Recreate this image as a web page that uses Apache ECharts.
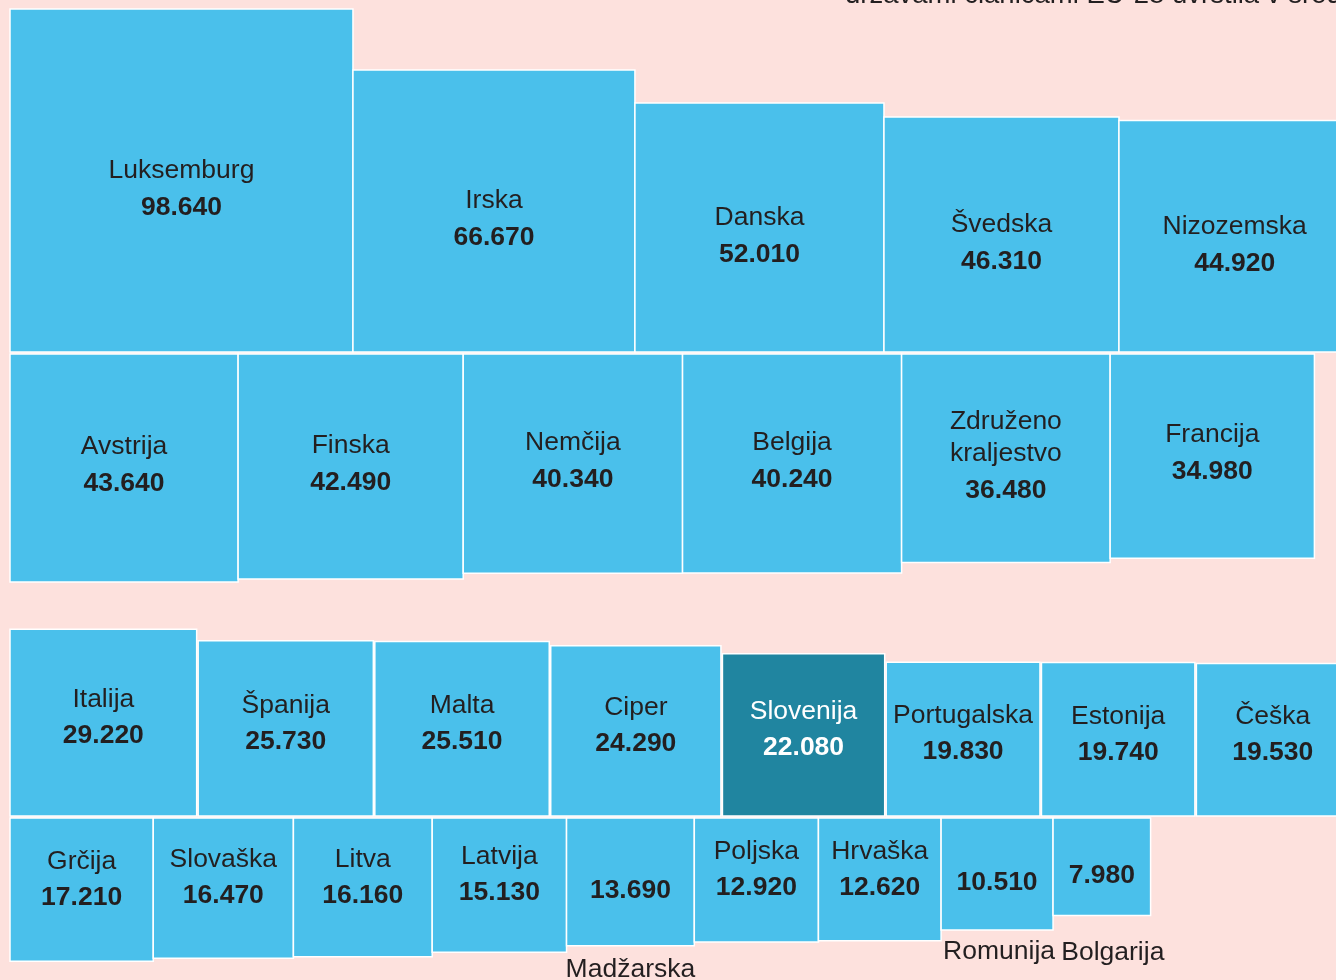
<!DOCTYPE html>
<html>
<head>
<meta charset="utf-8">
<title>BDP na prebivalca, EU-28</title>
<script src="https://cdn.jsdelivr.net/npm/echarts@6/dist/echarts.min.js"></script>
<style>
  html, body { margin: 0; padding: 0; background: #fde1dd; }
  #chart { width: 1336px; height: 980px; }
</style>
</head>
<body>
<div id="chart"></div>
<script>
// values per country, grouped in the four rows of the picture
const row1Countries = ['Luksemburg', 'Irska', 'Danska', 'Švedska', 'Nizozemska']
const row1Values = [98640, 66670, 52010, 46310, 44920]

const row2Countries = ['Avstrija', 'Finska', 'Nemčija', 'Belgija', 'Združeno\nkraljestvo', 'Francija']
const row2Values = [43640, 42490, 40340, 40240, 36480, 34980]

const row3Countries = ['Italija', 'Španija', 'Malta', 'Ciper', 'Slovenija', 'Portugalska', 'Estonija', 'Češka']
const row3Values = [29220, 25730, 25510, 24290, 22080, 19830, 19740, 19530]

const row4Countries = ['Grčija', 'Slovaška', 'Litva', 'Latvija', 'Madžarska', 'Poljska', 'Hrvaška', 'Romunija', 'Bolgarija']
const row4Values = [17210, 16470, 16160, 15130, 13690, 12920, 12620, 10510, 7980]

const highlighted = 'Slovenija'
const titleText = 'državami članicami EU-28 uvrstila v sredino'

// layout / style
const SCALE = 1.092 // side of a square per sqrt(value)
const BLUE = '#4ac0eb'
const DARK = '#2085a0'
const INK = '#231f20'
const FONT = '"Liberation Sans", Arial, Helvetica, sans-serif'
const FS = 26.5

const rows = [
  { names: row1Countries, values: row1Values, x0: 10, y: 352, anchor: 'bottom', gap: 0, nameDy: -10, valueDy: 27 },
  { names: row2Countries, values: row2Values, x0: 10, y: 354, anchor: 'top', gap: 0, nameDy: -21, valueDy: 16 },
  { names: row3Countries, values: row3Values, x0: 10, y: 816, anchor: 'bottom', gap: 1.5, nameDy: -23, valueDy: 13 },
  { names: row4Countries, values: row4Values, x0: 10, y: 818, anchor: 'top', gap: 0, nameDy: -28, valueDy: 8 }
]

// countries whose name sits under the square
const outsideLabels = {
  'Madžarska': { dx: 0, dy: 24 },
  'Romunija': { dx: 2, dy: 22 },
  'Bolgarija': { dx: 11, dy: 37 }
}

function fmt(v) {
  return String(v).replace(/\B(?=(\d{3})+(?!\d))/g, '.')
}

const items = []
rows.forEach((row, r) => {
  let x = row.x0
  row.names.forEach((name, i) => {
    const v = row.values[i]
    const side = SCALE * Math.sqrt(v)
    const y = row.anchor === 'bottom' ? row.y - side : row.y
    items.push({ name, value: [x, y, side, v, r] })
    x += side + row.gap
  })
})

function renderItem(params, api) {
  const x = api.value(0)
  const y = api.value(1)
  const side = api.value(2)
  const v = api.value(3)
  const row = rows[api.value(4)]
  const name = items[params.dataIndex].name
  const p0 = api.coord([x, y])
  const p1 = api.coord([x + side, y + side])
  const w = p1[0] - p0[0]
  const h = p1[1] - p0[1]
  const cx = p0[0] + w / 2
  const cy = p0[1] + h / 2
  const isHi = name === highlighted
  const color = isHi ? '#ffffff' : INK
  const outside = outsideLabels[name]

  const children = [{
    type: 'rect',
    shape: { x: p0[0], y: p0[1], width: w, height: h },
    style: { fill: isHi ? DARK : BLUE, stroke: '#ffffff', lineWidth: 1.5 }
  }]

  const lines = name.split('\n')
  if (outside) {
    children.push({
      type: 'text',
      style: {
        text: name, x: cx + outside.dx, y: p1[1] + outside.dy,
        align: 'center', verticalAlign: 'middle',
        fill: INK, fontSize: FS, fontFamily: FONT
      }
    })
    children.push({
      type: 'text',
      style: {
        text: fmt(v), x: cx, y: cy + 9,
        align: 'center', verticalAlign: 'middle',
        fill: color, fontSize: FS, fontWeight: 'bold', fontFamily: FONT
      }
    })
  } else {
    const extra = (lines.length - 1) * 16
    lines.forEach((ln, k) => {
      children.push({
        type: 'text',
        style: {
          text: ln, x: cx, y: cy + row.nameDy - extra + k * 32,
          align: 'center', verticalAlign: 'middle',
          fill: color, fontSize: FS, fontFamily: FONT
        }
      })
    })
    children.push({
      type: 'text',
      style: {
        text: fmt(v), x: cx, y: cy + row.valueDy + extra,
        align: 'center', verticalAlign: 'middle',
        fill: color, fontSize: FS, fontWeight: 'bold', fontFamily: FONT
      }
    })
  }

  return { type: 'group', children }
}

const chart = echarts.init(document.getElementById('chart'))
chart.setOption({
  backgroundColor: '#fde1dd',
  animation: false,
  grid: { left: 0, right: 0, top: 0, bottom: 0 },
  xAxis: { type: 'value', min: 0, max: 1336, show: false },
  yAxis: { type: 'value', min: 0, max: 980, inverse: true, show: false },
  graphic: [{
    type: 'text',
    x: 845,
    y: 9,
    z: 10,
    style: { text: titleText, fill: INK, fontSize: 27.5, fontFamily: FONT, verticalAlign: 'bottom' }
  }],
  series: [{
    type: 'custom',
    clip: false,
    renderItem,
    data: items
  }]
})
</script>
</body>
</html>
